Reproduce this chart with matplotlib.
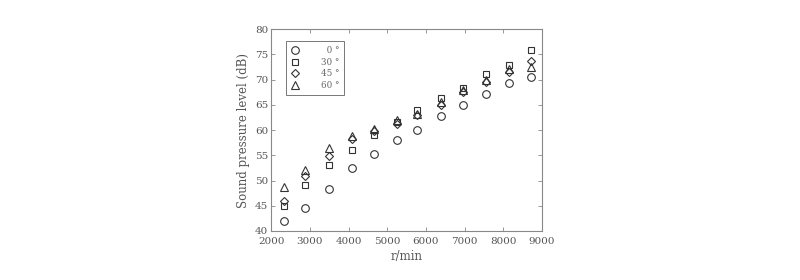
import matplotlib
matplotlib.use("Agg")
import matplotlib.pyplot as plt

rpm = [2340, 2870, 3490, 4100, 4670, 5250, 5780, 6390, 6970, 7550, 8140, 8710]
spl_0 = [42.0, 44.6, 48.3, 52.5, 55.2, 58.1, 60.0, 62.8, 64.9, 67.2, 69.4, 70.5]
spl_30 = [44.9, 49.2, 53.1, 56.0, 59.0, 61.5, 64.0, 66.3, 68.3, 71.1, 72.9, 75.8]
spl_45 = [46.0, 50.9, 54.8, 58.2, 59.9, 61.2, 63.0, 65.0, 67.5, 69.5, 71.5, 73.6]
spl_60 = [48.7, 52.0, 56.5, 58.9, 60.3, 62.0, 63.1, 65.6, 67.9, 70.0, 72.0, 72.5]
labels = ["\u20070 °", "30 °", "45 °", "60 °"]
xticks = [2000, 3000, 4000, 5000, 6000, 7000, 8000, 9000]
yticks = [40, 45, 50, 55, 60, 65, 70, 75, 80]

plt.rcParams['font.family'] = ['DejaVu Serif']
fig = plt.figure(figsize=(8, 2.8), dpi=100)
ax = fig.add_axes([0.339, 0.175, 0.3385, 0.721])

tc = '#555555'
mc = '#333333'
series = [spl_0, spl_30, spl_45, spl_60]
markers = ['o', 's', 'D', '^']
sizes = [5.5, 4.5, 4.0, 5.5]
for s, m, ms, lab in zip(series, markers, sizes, labels):
    ax.plot(rpm, s, linestyle='none', marker=m, markersize=ms,
            markerfacecolor='none', markeredgecolor=mc, markeredgewidth=0.8, label=lab)

ax.set_xlim(2000, 9000)
ax.set_ylim(40, 80)
ax.set_xticks(xticks)
ax.set_yticks(yticks)
ax.tick_params(direction='in', length=3, width=0.6, colors='#888888', labelcolor=tc,
               labelsize=7.5, top=True, right=True)
ax.tick_params(axis='x', pad=4)
ax.tick_params(axis='y', pad=2)
for sp in ax.spines.values():
    sp.set_color('#888888')
    sp.set_linewidth(0.8)
ax.set_xlabel('r/min', fontsize=8.5, color=tc, labelpad=3)
ax.set_ylabel('Sound pressure level (dB)', fontsize=8.5, color=tc, labelpad=4)

leg = ax.legend(loc='upper left', bbox_to_anchor=(0.055, 0.94), fontsize=6.3, frameon=True,
                fancybox=False, edgecolor='#555555', handlelength=1.0, handletextpad=2.4,
                borderpad=0.55, labelspacing=0.3, borderaxespad=0.0)
leg.get_frame().set_linewidth(0.7)
for t in leg.get_texts():
    t.set_color('#666666')

fig.savefig('out.png', dpi=100)
